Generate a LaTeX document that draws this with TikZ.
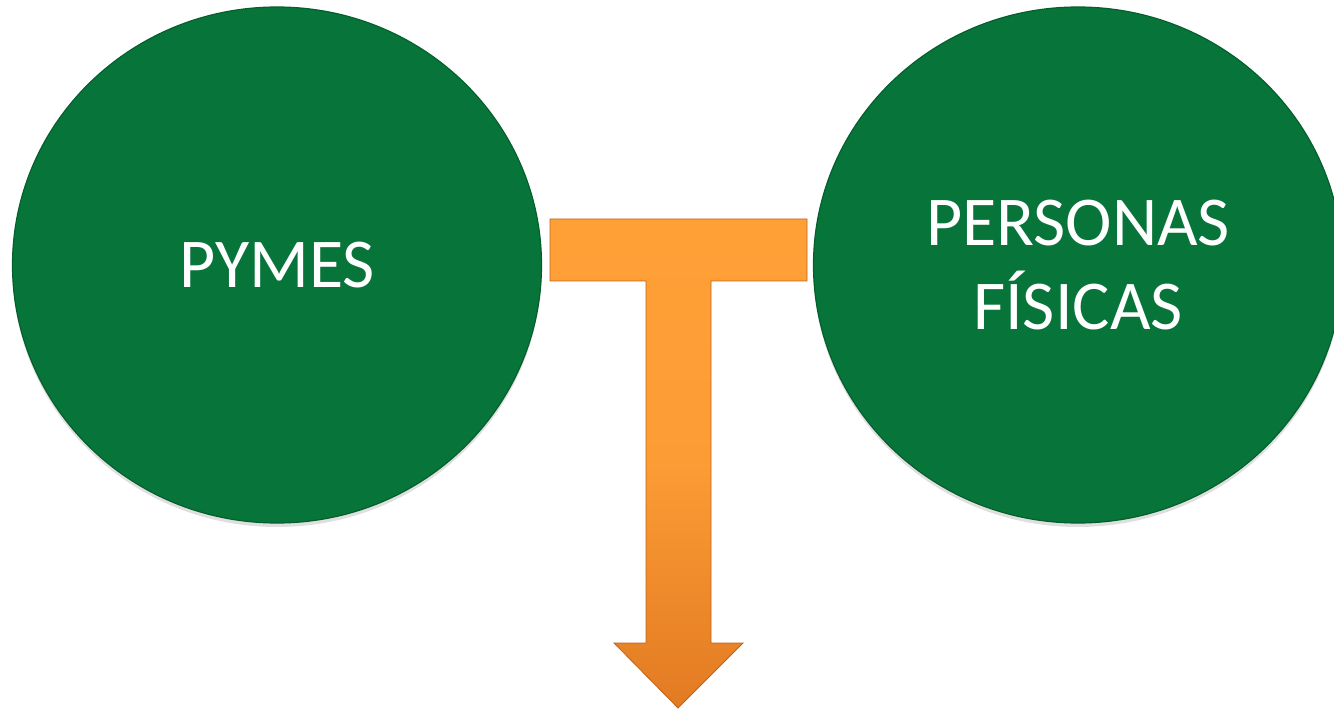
\documentclass[tikz,border=0pt]{standalone}
\usepackage{fontspec}
\setmainfont{Carlito}
\usetikzlibrary{shadows}
\definecolor{circgreen}{RGB}{7,117,58}
\definecolor{circedge}{RGB}{5,95,45}
\definecolor{orTop}{RGB}{255,160,55}
\definecolor{orBot}{RGB}{226,122,34}
\definecolor{orEdge}{RGB}{190,100,30}
\tikzset{
  bubble/.style={ellipse, minimum width=529pt, minimum height=516pt, inner sep=0pt,
    fill=circgreen, draw=circedge, line width=1.2pt,
    drop shadow={shadow xshift=0pt, shadow yshift=-4pt, opacity=0.25},
    text=white, font=\fontsize{70}{84}\selectfont, align=center},
  tarrow/.style={top color=orTop, bottom color=orBot, middle color=orTop!90!orBot, draw=orEdge, line width=0.8pt}
}
\usetikzlibrary{shapes.geometric}
\begin{document}
\begin{tikzpicture}[x=1pt,y=-1pt]
\useasboundingbox (0,0) rectangle (1334,711);
\clip (0,0) rectangle (1334,711);
\node[bubble] (pymes) at (277,265) {PYMES};
\node[bubble] (personas) at (1078,265) {PERSONAS\\FÍSICAS};
% T-shaped arrow
\coordinate (tl) at (550,219);
\coordinate (tr) at (807,219);
\coordinate (tip) at (678,708);
\draw[tarrow] (tl) -- (tr) -- (807,281) -- (711,281) -- (711,643) -- (743,643)
  -- (tip) -- (614,643) -- (646,643) -- (646,281) -- (550,281) -- cycle;
\end{tikzpicture}
\end{document}
